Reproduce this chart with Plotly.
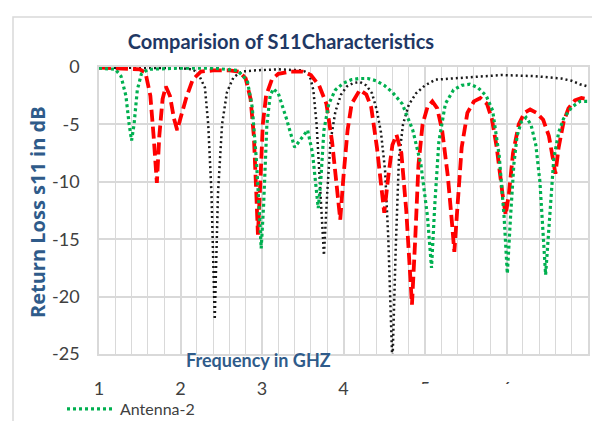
import plotly.graph_objects as go

# ---------------- data ----------------
ant2_f = [1.0, 1.2, 1.27, 1.33, 1.37, 1.40, 1.43, 1.47, 1.52, 1.6, 2.0, 2.4, 2.7, 2.82, 2.88, 2.93,
          2.97, 2.99, 3.02, 3.06, 3.1, 3.14, 3.2, 3.3, 3.4, 3.48, 3.56, 3.62, 3.66, 3.69, 3.72, 3.76,
          3.82, 3.9, 4.0, 4.1, 4.2, 4.3, 4.4, 4.5, 4.6, 4.72, 4.85, 4.95, 5.03, 5.08, 5.12, 5.17,
          5.25, 5.35, 5.45, 5.55, 5.65, 5.75, 5.83, 5.91, 5.97, 6.01, 6.05, 6.09, 6.13, 6.18, 6.24,
          6.3, 6.36, 6.41, 6.48, 6.53, 6.58, 6.64, 6.7, 6.8, 6.9, 7.0]
ant2_db = [-0.1, -0.2, -0.8, -2.5, -5.0, -6.4, -5.0, -2.0, -0.6, -0.2, -0.1, -0.1, -0.3, -1.2, -3.5, -8.0,
           -13.0, -15.8, -12.0, -5.0, -2.5, -1.9, -2.3, -4.5, -7.0, -6.3, -5.5, -7.5, -10.5, -12.3, -10.0, -5.5,
           -3.2, -2.0, -1.4, -1.1, -1.0, -1.0, -1.2, -1.6, -2.2, -3.2, -5.5, -8.5, -13.0, -17.5, -12.0, -6.5,
           -3.2, -2.0, -1.6, -1.5, -1.8, -2.5, -3.8, -7.7, -13.0, -18.0, -13.0, -8.5, -6.0, -4.8, -4.4,
           -5.0, -6.8, -10.0, -18.1, -13.0, -8.0, -5.7, -4.5, -3.5, -3.0, -3.0]

ant3_f = [1.0, 1.3, 1.5, 1.57, 1.63, 1.67, 1.71, 1.74, 1.78, 1.82, 1.87, 1.92, 1.96, 2.01, 2.07, 2.15,
          2.25, 2.4, 2.6, 2.72, 2.8, 2.86, 2.9, 2.93, 2.95, 2.98, 3.01, 3.05, 3.12, 3.2, 3.35, 3.5,
          3.6, 3.7, 3.79, 3.86, 3.92, 3.96, 4.0, 4.05, 4.1, 4.2, 4.28, 4.34, 4.41, 4.46, 4.5, 4.55,
          4.6, 4.65, 4.71, 4.77, 4.81, 4.84, 4.88, 4.92, 4.97, 5.03, 5.09, 5.15, 5.21, 5.28, 5.33,
          5.36, 5.4, 5.45, 5.52, 5.6, 5.68, 5.76, 5.82, 5.88, 5.95, 5.99, 6.03, 6.08, 6.15, 6.22,
          6.29, 6.37, 6.45, 6.52, 6.57, 6.6, 6.64, 6.7, 6.76, 6.84, 6.92, 7.0]
ant3_db = [-0.05, -0.1, -0.2, -0.5, -2.5, -6.0, -10.1, -6.0, -2.8, -1.7, -2.5, -4.5, -5.5, -4.2, -2.7, -1.1,
           -0.4, -0.3, -0.3, -0.4, -1.0, -2.8, -6.0, -11.0, -14.6, -10.0, -5.0, -2.5, -1.1, -0.6, -0.4, -0.4,
           -0.7, -1.6, -3.2, -6.5, -10.5, -13.3, -9.5, -5.5, -3.2, -2.0, -2.4, -3.5, -7.0, -10.5, -12.7, -9.5,
           -6.8, -5.9, -7.5, -12.5, -17.5, -20.7, -15.0, -8.5, -5.0, -3.5, -3.0, -3.6, -5.5, -9.5, -13.5,
           -16.1, -12.0, -7.0, -4.0, -3.0, -2.7, -3.2, -4.5, -7.0, -11.0, -12.9, -11.0, -7.5, -5.0, -4.0,
           -3.7, -4.0, -4.6, -6.0, -8.0, -9.3, -7.0, -4.8, -3.6, -2.9, -2.7, -2.8]

ant1_f = [1.0, 1.5, 2.0, 2.15, 2.22, 2.3, 2.34, 2.38, 2.42, 2.46, 2.51, 2.57, 2.65, 2.75, 2.9, 3.2,
          3.5, 3.58, 3.63, 3.67, 3.71, 3.76, 3.8, 3.84, 3.9, 3.97, 4.04, 4.12, 4.2, 4.28, 4.35, 4.41,
          4.46, 4.51, 4.55, 4.6, 4.64, 4.68, 4.73, 4.8, 4.89, 5.0, 5.13, 5.3, 5.54, 5.94, 6.35,
          6.67, 6.8, 6.9, 7.0]
ant1_db = [-0.05, -0.05, -0.1, -0.2, -0.6, -1.8, -5.0, -11.0, -22.0, -11.0, -5.0, -2.2, -0.9, -0.4, -0.3, -0.2,
           -0.3, -0.6, -2.0, -5.0, -10.5, -16.4, -11.0, -6.5, -3.9, -2.4, -1.7, -1.4, -1.3, -1.6, -2.3, -3.8,
           -5.7, -9.0, -15.0, -26.0, -16.0, -8.0, -5.0, -3.3, -2.3, -1.6, -1.1, -1.0, -0.9, -0.7, -0.8,
           -1.0, -1.2, -1.5, -1.7]

x_tick_vals = [1, 2, 3, 4, 5, 6]
x_tick_text = ["1", "2", "3", "4", "5", "6"]
y_tick_vals = [0, -5, -10, -15, -20, -25]
y_tick_text = ["0", "-5", "-10", "-15", "-20", "-25"]

# ---------------- figure ----------------
# the page body has an 8px margin, so the figure is drawn 8px smaller and all
# target positions (given in window pixels) are shifted by OFF
OFF = 8
W, H = 600 - OFF, 421 - OFF
PL, PR, PT, PB = 99, 588, 67, 354          # plot area in window pixels
L, R, T, B = PL - OFF, W - (PR - OFF), PT - OFF, H - (PB - OFF)
pw, ph = W - L - R, H - T - B


def px_x(p):
    return (p - OFF - L) / pw


def px_y(p):
    return (H - B - (p - OFF)) / ph


fig = go.Figure()
fig.add_trace(go.Scatter(x=ant1_f, y=ant1_db, mode="lines", name="Antenna-1",
                         line=dict(color="#1a1a1a", width=2.5, dash="2px,3px"), showlegend=False))
fig.add_trace(go.Scatter(x=ant3_f, y=ant3_db, mode="lines", name="Antenna-3",
                         line=dict(color="#ff0000", width=3.8, dash="12px,5px"), showlegend=False))
fig.add_trace(go.Scatter(x=ant2_f, y=ant2_db, mode="lines", name="Antenna-2",
                         line=dict(color="#00b050", width=3.2, dash="3px,3px")))

grid = "#d9d9d9"
fig.update_layout(
    width=W, height=H,
    margin=dict(l=L, r=R, t=T, b=B, autoexpand=False),
    paper_bgcolor="white", plot_bgcolor="white",
    font=dict(family="Lato, Open Sans, sans-serif", color="#404040", size=16),
    title=dict(text="<b>Comparision of S11Characteristics</b>",
               font=dict(size=20, color="#1f3864"),
               xref="paper", x=px_x(281), xanchor="center",
               yref="container", y=1 - (42 - OFF) / H, yanchor="middle"),
    xaxis=dict(range=[1, 7], tickmode="array", tickvals=x_tick_vals, ticktext=x_tick_text,
               showgrid=True, gridcolor=grid, gridwidth=1.5, automargin=False,
               minor=dict(tickmode="linear", tick0=1, dtick=0.2, showgrid=True,
                          gridcolor=grid, gridwidth=1.2),
               showline=True, linecolor=grid, linewidth=1.5, mirror=True,
               ticks="", ticklabelstandoff=18, zeroline=False,
               tickfont=dict(size=18, color="#404040")),
    yaxis=dict(range=[-25, 0], tickmode="array", tickvals=y_tick_vals, ticktext=y_tick_text,
               showgrid=True, gridcolor=grid, gridwidth=1.5, automargin=False,
               showline=True, linecolor=grid, linewidth=1.5, mirror=True,
               ticks="", ticklabelstandoff=14, zeroline=False,
               tickfont=dict(size=18, color="#404040")),
    legend=dict(orientation="h", x=px_x(62), xanchor="left", y=px_y(409), yanchor="middle",
                itemwidth=48, font=dict(size=16, color="#404040"), bgcolor="rgba(0,0,0,0)"),
    annotations=[
        dict(text="<b>Return Loss s11 in dB</b>", textangle=-90, showarrow=False,
             xref="paper", yref="paper", x=px_x(37), y=px_y(212),
             xanchor="center", yanchor="middle",
             font=dict(size=20, color="#2f5b8a", family="Open Sans, sans-serif")),
        dict(text="<b>Frequency in GHZ</b>", showarrow=False,
             xref="paper", yref="paper", x=px_x(258), y=px_y(360),
             xanchor="center", yanchor="middle",
             font=dict(size=18, color="#2f5b8a")),
    ],
    shapes=[
        dict(type="rect", xref="paper", yref="paper",
             x0=px_x(13), x1=px_x(604), y0=px_y(430), y1=px_y(17),
             line=dict(color="#d9d9d9", width=1.5), fillcolor="rgba(0,0,0,0)", layer="below"),
        dict(type="rect", xref="paper", yref="paper",
             x0=px_x(395), x1=px_x(600), y0=px_y(421), y1=px_y(384),
             line=dict(width=0), fillcolor="white", layer="above"),
    ],
)

fig.write_html("out.html")
